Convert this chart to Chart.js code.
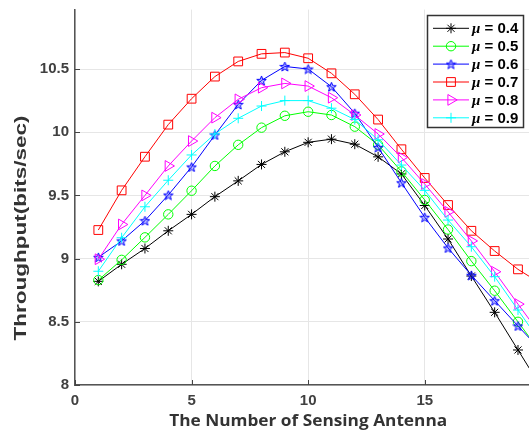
<!DOCTYPE html>
<html><head><meta charset="utf-8">
<script src="https://cdn.jsdelivr.net/npm/chart.js@4/dist/chart.umd.min.js"></script>
<style>
html,body{margin:0;padding:0;background:#fff;overflow:hidden;width:529px;height:432px}
#wrap{position:absolute;left:0;top:0;width:560px;height:432px}
</style>
</head><body><div id="wrap"><canvas id="c" width="560" height="432"></canvas></div>
<script>
const antennas = [1,2,3,4,5,6,7,8,9,10,11,12,13,14,15,16,17,18,19,20];
const seriesLabels = ['μ = 0.4','μ = 0.5','μ = 0.6','μ = 0.7','μ = 0.8','μ = 0.9'];
const mu04 = [8.82,8.955,9.08,9.22,9.35,9.49,9.615,9.745,9.845,9.92,9.945,9.905,9.805,9.67,9.42,9.155,8.862,8.575,8.277,7.98];
const mu05 = [8.83,8.99,9.168,9.35,9.537,9.733,9.90,10.036,10.13,10.162,10.136,10.044,9.90,9.69,9.464,9.23,8.98,8.746,8.50,8.25];
const mu06 = [9.01,9.14,9.30,9.503,9.725,9.978,10.22,10.41,10.52,10.50,10.36,10.15,9.88,9.60,9.327,9.084,8.868,8.667,8.467,8.27];
const mu07 = [9.226,9.54,9.806,10.06,10.265,10.44,10.56,10.62,10.63,10.585,10.466,10.30,10.10,9.865,9.638,9.424,9.22,9.06,8.915,8.80];
const mu08 = [8.995,9.27,9.50,9.733,9.93,10.115,10.26,10.352,10.386,10.365,10.273,10.136,9.986,9.80,9.59,9.37,9.14,8.896,8.64,8.39];
const mu09 = [8.90,9.165,9.41,9.62,9.82,9.986,10.11,10.207,10.25,10.25,10.19,10.10,9.94,9.74,9.54,9.305,9.094,8.857,8.593,8.33];
const xTickStep = 5;
const yTickStep = 0.5;
const xTitle = 'The Number of Sensing Antenna';
const yTitle = 'Throughput(bits/sec)';

// pentagram marker image
function makeStar(color){
  const c = document.createElement('canvas');
  c.width = 11; c.height = 11;
  const g = c.getContext('2d');
  g.beginPath();
  for(let i=0;i<10;i++){
    const r = i%2===0 ? 5 : 2.1;
    const a = -Math.PI/2 + i*Math.PI/5;
    const px = 5.5 + r*Math.cos(a), py = 6 + r*Math.sin(a);
    if(i===0) g.moveTo(px,py); else g.lineTo(px,py);
  }
  g.closePath();
  g.fillStyle = 'rgba(60,60,255,0.35)';
  g.fill();
  g.strokeStyle = color; g.lineWidth = 1; g.stroke();
  return c;
}
const starImg = makeStar('#0000ff');

const allSeries = [mu04,mu05,mu06,mu07,mu08,mu09];
const colors = ['#000000','#00ff00','#0000ff','#ff0000','#ff00ff','#00ffff'];
const styles = ['star','circle',starImg,'rect','triangle','cross'];
const radii = [5,4.7,5,6.2,6.2,5];
const rots = [0,0,0,0,90,0];

const datasets = allSeries.map((s,i)=>({
  label: seriesLabels[i],
  data: antennas.map((a,j)=>({x:a,y:s[j]})),
  borderColor: colors[i],
  backgroundColor: 'rgba(0,0,0,0)',
  pointBorderColor: colors[i],
  pointBackgroundColor: 'rgba(0,0,0,0)',
  borderWidth: 1,
  pointBorderWidth: 1,
  pointStyle: styles[i],
  pointRadius: radii[i],
  pointRotation: rots[i],
  tension: 0,
  order: -i
}));

const decor = {
  id:'decor',
  afterDraw(chart){
    const ctx = chart.ctx;
    const xs = chart.scales.x, ys = chart.scales.y;
    const ca = chart.chartArea;
    ctx.save();
    // inward ticks
    ctx.strokeStyle = '#444'; ctx.lineWidth = 1;
    xs.ticks.forEach(t=>{
      const px = Math.round(xs.getPixelForValue(t.value))+0.5;
      ctx.beginPath(); ctx.moveTo(px, ca.bottom); ctx.lineTo(px, ca.bottom-5); ctx.stroke();
    });
    ys.ticks.forEach(t=>{
      const py = Math.round(ys.getPixelForValue(t.value))+0.5;
      ctx.beginPath(); ctx.moveTo(ca.left, py); ctx.lineTo(ca.left+5, py); ctx.stroke();
    });
    // axis titles
    ctx.fillStyle = '#333';
    ctx.textAlign = 'center'; ctx.textBaseline = 'middle';
    ctx.font = 'bold 16px "Open Sans", "Liberation Sans", sans-serif';
    let w = ctx.measureText(xTitle).width;
    ctx.save();
    ctx.translate((ca.left+ca.right)/2, 421);
    ctx.scale(278/w, 1);
    ctx.fillText(xTitle, 0, 0);
    ctx.restore();
    ctx.font = 'bold 16px "Liberation Sans", Arial, sans-serif';
    w = ctx.measureText(yTitle).width;
    ctx.save();
    ctx.translate(22, 228);
    ctx.rotate(-Math.PI/2);
    ctx.scale(225/w, 1);
    ctx.fillText(yTitle, 0, 0);
    ctx.restore();
    // legend
    const bx = 427.5, by = 15.5, bw = 96, bh = 112;
    ctx.fillStyle = '#fff';
    ctx.fillRect(bx, by, bw, bh);
    ctx.strokeStyle = '#333'; ctx.lineWidth = 1.5;
    ctx.strokeRect(bx, by, bw, bh);
    chart.data.datasets.forEach((ds,i)=>{
      const y = 28.3 + 17.9*i;
      ctx.strokeStyle = ds.borderColor; ctx.lineWidth = 1;
      ctx.beginPath(); ctx.moveTo(433, y); ctx.lineTo(469, y); ctx.stroke();
      ctx.fillStyle = 'rgba(0,0,0,0)';
      ctx.strokeStyle = ds.borderColor;
      Chart.helpers.drawPoint(ctx, {pointStyle: ds.pointStyle, radius: ds.pointRadius, rotation: ds.pointRotation, borderWidth: 1}, 451, y);
      ctx.fillStyle = '#000';
      ctx.textAlign = 'left'; ctx.textBaseline = 'middle';
      const parts = ds.label.split(' ');
      ctx.font = 'italic bold 15px "Liberation Serif", serif';
      ctx.fillText(parts[0], 472, y+1);
      const mw = ctx.measureText(parts[0]).width;
      ctx.font = 'bold 15px "Liberation Sans", Arial, sans-serif';
      ctx.fillText(' ' + parts.slice(1).join(' '), 472+mw, y+1);
    });
    ctx.restore();
  }
};

new Chart(document.getElementById('c'), {
  type:'line',
  data:{datasets},
  options:{
    responsive:false,
    animation:false,
    events:[],
    layout:{padding:{top:9.6,right:18.7,left:0,bottom:0}},
    plugins:{legend:{display:false},tooltip:{enabled:false},title:{display:false}},
    scales:{
      x:{type:'linear',min:0,max:20,
        ticks:{stepSize:xTickStep,color:'#404040',font:{family:'"Liberation Sans", Arial, sans-serif',size:15,weight:'bold'},padding:7,maxRotation:0},
        grid:{color:'#e6e6e6',lineWidth:1,drawTicks:false},
        border:{display:true,color:'#555',width:1.5},
        afterFit(s){s.height=47;s.paddingLeft=0;s.paddingRight=0;}
      },
      y:{type:'linear',min:8,max:10.97,
        ticks:{stepSize:yTickStep,includeBounds:false,color:'#404040',font:{family:'"Liberation Sans", Arial, sans-serif',size:15,weight:'bold'},padding:6,callback:v=>String(v)},
        grid:{color:'#e6e6e6',lineWidth:1,drawTicks:false},
        border:{display:true,color:'#555',width:1.5},
        afterFit(s){s.width=75;s.paddingTop=0;s.paddingBottom=0;}
      }
    }
  },
  plugins:[decor]
});
</script>
</body></html>
